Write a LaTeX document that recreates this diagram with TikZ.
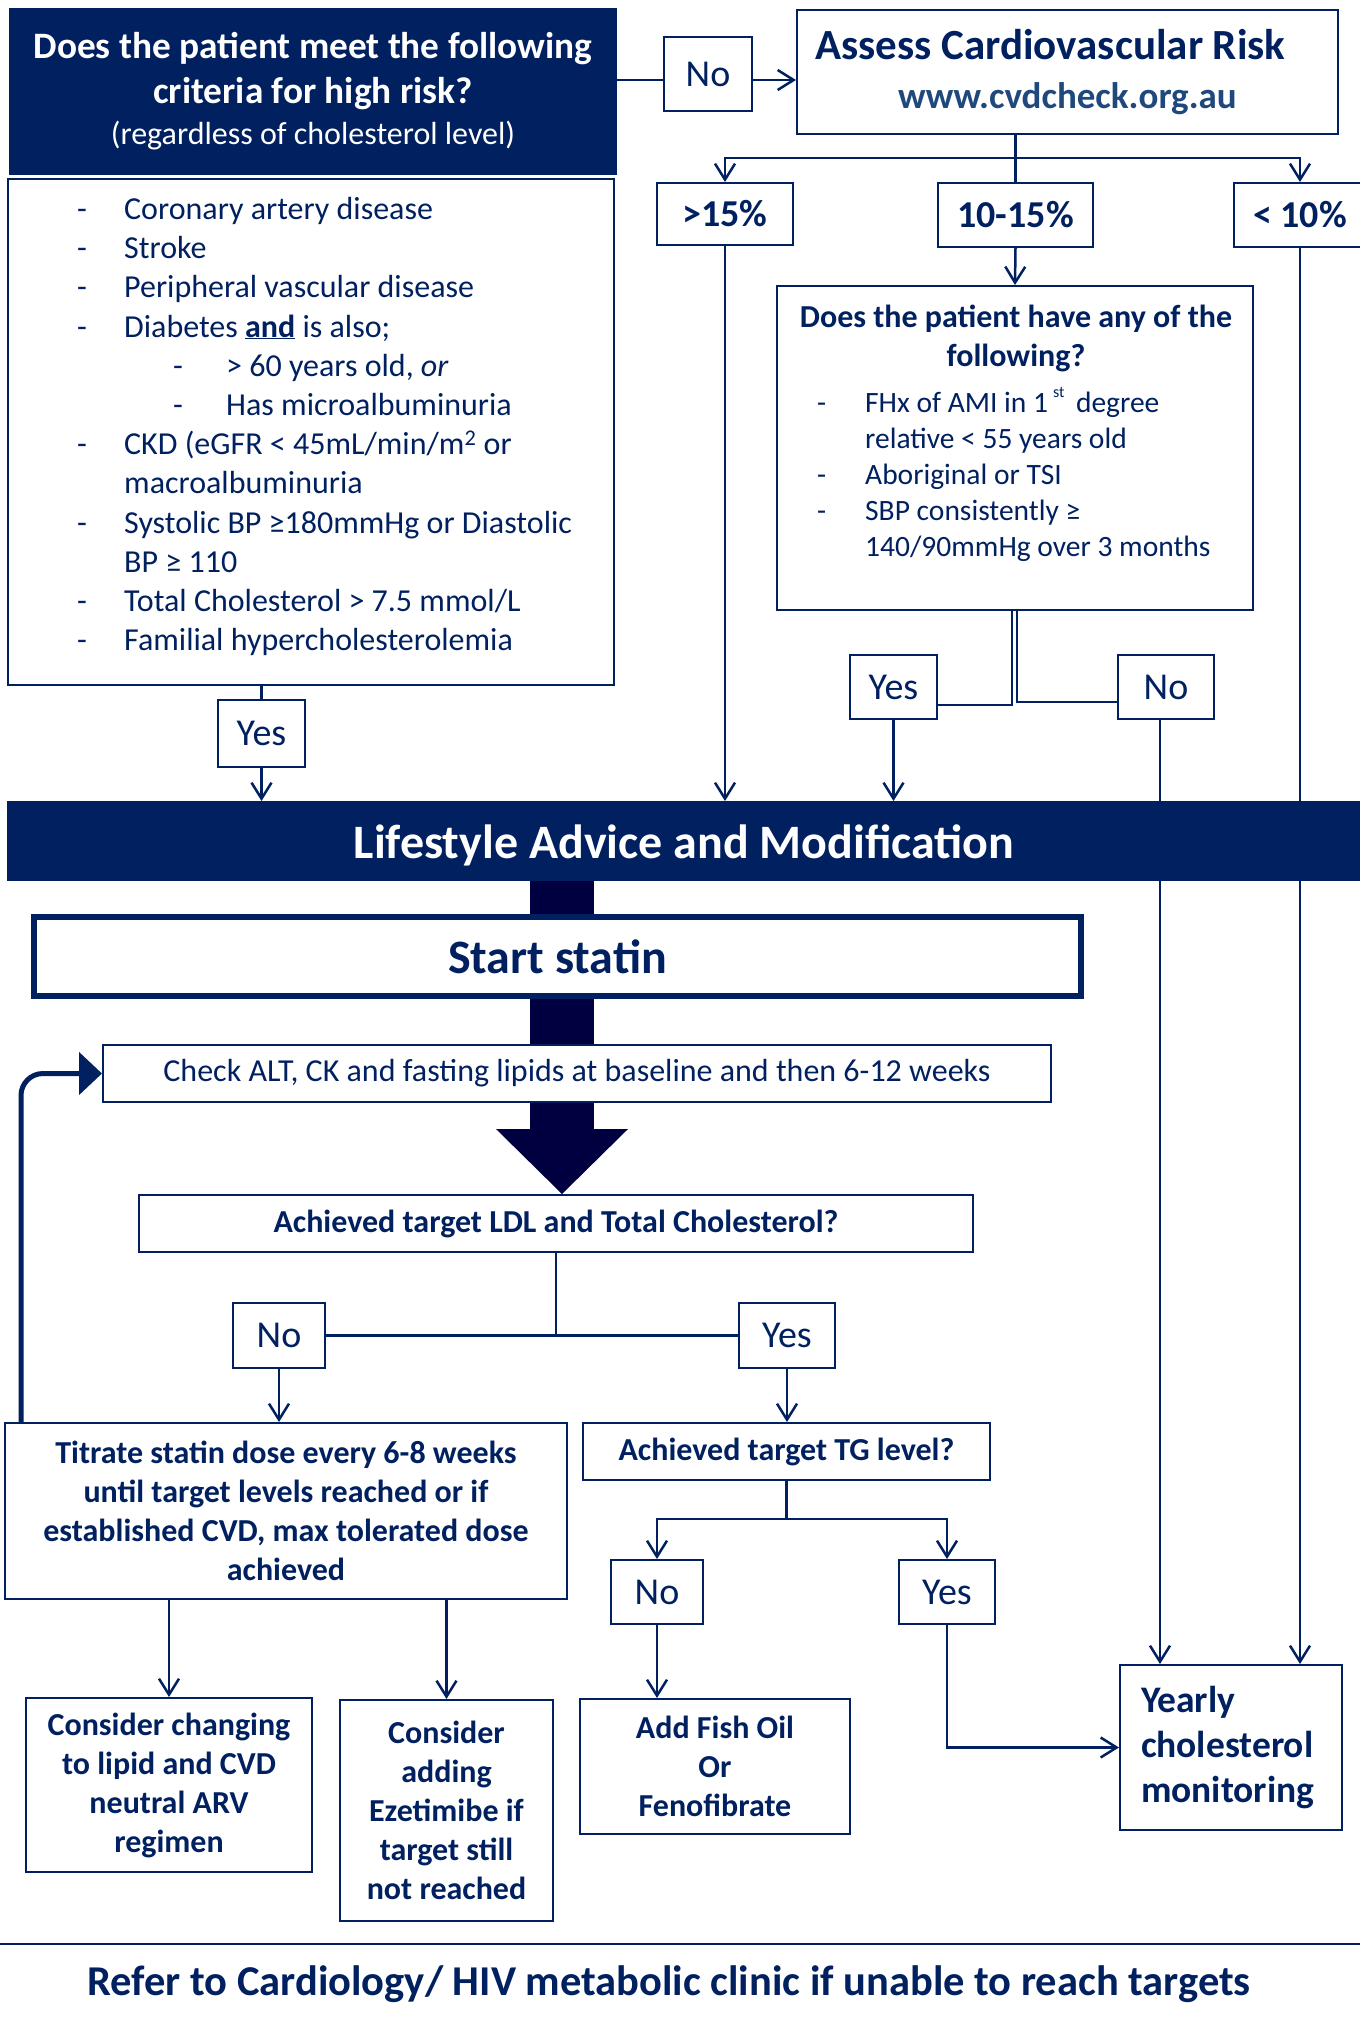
\documentclass[tikz,border=0pt]{standalone}
\usepackage{fontspec}
\setmainfont{Carlito}
\usepackage{tikz}
\usetikzlibrary{arrows.meta}
\usetikzlibrary{positioning}
\usetikzlibrary{calc}
\definecolor{navy}{RGB}{0,32,96}
\definecolor{deepnavy}{RGB}{0,0,64}
\definecolor{linkblue}{RGB}{31,73,125}
\newcommand{\critdash}{\makebox[47pt][l]{-}}
\newcommand{\subdash}{\hspace*{96pt}\makebox[53pt][l]{-}}
\newcommand{\rfdash}{\makebox[48pt][l]{-}}

\begin{document}
\begin{tikzpicture}[x=1pt,y=-1pt,
  every node/.style={text=navy},
  box/.style={draw=navy, line width=2pt, inner sep=0pt, align=center},
  darkbox/.style={box, fill=navy, text=white},
  answer/.style={box, font=\fontsize{38}{44}\selectfont},
  risk/.style={answer, font=\bfseries\fontsize{38}{44}\selectfont},
  action/.style={box, font=\bfseries\fontsize{32}{39}\selectfont},
  line/.style={draw=navy, line width=2.5pt},
  arr/.style={line, -{Straight Barb[length=16pt,width=20pt]}},
  fat/.style={draw=deepnavy, line width=64pt},
  loop/.style={draw=navy, line width=5pt, rounded corners=22pt,
    -{Triangle[length=23pt,width=42pt]}}]
\useasboundingbox (0,0) rectangle (1360,2022);

% first question
\node[darkbox, minimum width=606pt, minimum height=165pt,
  font=\bfseries\fontsize{37.3}{45}\selectfont] (highrisk) at (313,91.5)
  {Does the patient meet the following\\criteria for high risk?\\[-4pt]
   {\mdseries\fontsize{32}{35}\selectfont (regardless of cholesterol level)}};
\node[box, minimum width=606pt, minimum height=506pt] (criteria) at (311,432) {};
\node[anchor=north west, align=left, inner sep=0pt,
  font=\fontsize{32}{39.2}\selectfont] (criterialist) at (77,197)
  {\critdash Coronary artery disease\\
   \critdash Stroke\\
   \critdash Peripheral vascular disease\\
   \critdash Diabetes \underline{\textbf{and}} is also;\\
   \subdash > 60 years old, \textit{or}\\
   \subdash Has microalbuminuria\\
   \critdash CKD (eGFR < 45mL/min/m\textsuperscript{2} or\\
   \hspace*{47pt}macroalbuminuria\\
   \critdash Systolic BP ≥180mmHg or Diastolic\\
   \hspace*{47pt}BP ≥ 110\\
   \critdash Total Cholesterol > 7.5 mmol/L\\
   \critdash Familial hypercholesterolemia};
\node[answer, minimum width=87pt, minimum height=67pt] (highyes) at (261.5,733.5) {Yes};

% cardiovascular risk
\node[answer, minimum width=88pt, minimum height=74pt] (cvdno) at (708,74) {No};
\node[box, minimum width=541pt, minimum height=124pt,
  font=\bfseries\fontsize{43}{49}\selectfont] (assess) at (1067.5,72)
  {Assess Cardiovascular Risk\hspace*{34pt}\\
   {\fontsize{37}{49}\selectfont\color{linkblue}www.cvdcheck.org.au}};
\node[risk, minimum width=136pt, minimum height=62pt] (riskhigh) at (725,214) {>15\%};
\node[risk, minimum width=155pt, minimum height=64pt] (riskmid) at (1015.5,215) {10-15\%};
\node[risk, minimum width=132pt, minimum height=64pt] (risklow) at (1300,215) {< 10\%};
\node[box, minimum width=476pt, minimum height=324pt] (riskfactors) at (1015,448) {};
\node[anchor=north, align=center, inner sep=0pt,
  font=\bfseries\fontsize{32}{39}\selectfont] (rfquestion) at (1016,305)
  {Does the patient have any of the\\following?};
\node[anchor=north west, align=left, inner sep=0pt,
  font=\fontsize{29.5}{36}\selectfont] (rflist) at (817,392)
  {\rfdash FHx of AMI in 1\,\raisebox{15pt}[\height][\depth]{\fontsize{16}{16}\selectfont st}\, degree\\
   \hspace*{48pt}relative < 55 years old\\
   \rfdash Aboriginal or TSI\\
   \rfdash SBP consistently ≥\\
   \hspace*{48pt}140/90mmHg over 3 months};
\node[answer, minimum width=87pt, minimum height=64pt] (riskyes) at (893.5,687) {Yes};
\node[answer, minimum width=96pt, minimum height=64pt] (riskno) at (1166,687) {No};

% treatment
\node[darkbox, minimum width=1352pt, minimum height=78pt,
  font=\bfseries\fontsize{48}{56}\selectfont] (lifestyle) at (684,841)
  {\raisebox{-4pt}[\height][\depth]{Lifestyle Advice and Modification}};
\node[box, line width=6pt, minimum width=1047pt, minimum height=79pt,
  font=\bfseries\fontsize{48}{56}\selectfont] (statin) at (557.5,956.5) {Start statin};
\node[box, minimum width=948pt, minimum height=57pt,
  font=\fontsize{32}{36}\selectfont] (labs) at (577,1073.5)
  {Check ALT, CK and fasting lipids at baseline and then 6-12 weeks};
\node[action, minimum width=834pt, minimum height=57pt] (ldltarget) at (556,1223.5)
  {Achieved target LDL and Total Cholesterol?};
\node[answer, minimum width=92pt, minimum height=65pt] (ldlno) at (279,1335.5) {No};
\node[answer, minimum width=96pt, minimum height=65pt] (ldlyes) at (787,1335.5) {Yes};
\node[action, minimum width=562pt, minimum height=176pt] (titrate) at (286,1511)
  {Titrate statin dose every 6-8 weeks\\until target levels reached or if\\
   established CVD, max tolerated dose\\achieved};
\node[action, minimum width=407pt, minimum height=57pt] (tgtarget) at (786.5,1451.5)
  {Achieved target TG level?};
\node[answer, minimum width=92pt, minimum height=64pt] (tgno) at (657,1592) {No};
\node[answer, minimum width=96pt, minimum height=64pt] (tgyes) at (947,1592) {Yes};
\node[action, minimum width=286pt, minimum height=174pt] (switcharv) at (169,1785)
  {Consider changing\\to lipid and CVD\\neutral ARV\\regimen};
\node[action, minimum width=213pt, minimum height=221pt] (ezetimibe) at (446.5,1810.5)
  {Consider\\adding\\Ezetimibe if\\target still\\not reached};
\node[action, minimum width=270pt, minimum height=135pt] (fishoil) at (715,1766.5)
  {Add Fish Oil\\Or\\Fenofibrate};
\node[action, minimum width=222pt, minimum height=165pt, align=left, text width=180pt,
  font=\bfseries\fontsize{37.5}{45}\selectfont] (yearly) at (1231,1747.5)
  {Yearly\\cholesterol\\monitoring};

% connectors, top
\draw[line] (highrisk.east |- 0,80) -- ([yshift=-6pt]cvdno.west);
\draw[arr] ([yshift=-6pt]cvdno.east) -- ([yshift=-6pt]cvdno.east -| assess.west);
\coordinate (risksplit) at ($(assess.south -| riskmid.north)+(0,23)$);
\draw[line] (assess.south -| riskmid.north) -- (riskmid.north);
\draw[arr] (risksplit) -| (riskhigh.north);
\draw[arr] (risksplit) -| (risklow.north);
\draw[arr] (riskmid.south) -- (riskfactors.north);
\draw[line] ([xshift=-3pt]riskfactors.south) |- ([yshift=-18pt]riskyes.east);
\draw[line] ([xshift=2pt]riskfactors.south) |- ([yshift=-15pt]riskno.west);
\draw[line] (highyes.north |- criteria.south) -- (highyes.north);
\draw[arr] (highyes.south) -- (highyes.south |- lifestyle.north);
\draw[arr] (riskhigh.south) -- (riskhigh.south |- lifestyle.north);
\draw[arr] (riskyes.south) -- (riskyes.south |- lifestyle.north);
\draw[arr] ([xshift=-6pt]riskno.south) -- ([xshift=-6pt]riskno.south |- yearly.north);
\draw[arr] (risklow.south) -- (risklow.south |- yearly.north);

% connectors, statin
\coordinate (stem) at (562,0);
\draw[fat] (lifestyle.south -| stem) -- (statin.north -| stem);
\draw[fat] (statin.south -| stem) -- (labs.north -| stem);
\draw[fat] (labs.south -| stem) -- ++(0,30);
\fill[deepnavy] (ldltarget.north -| stem) -- ++(-66,-65) -- ++(132,0) -- cycle;
\draw[loop] ([xshift=17pt]titrate.north west) |- (labs.west);
\draw[line] (ldlno.east) -- (ldlyes.west);
\draw[line] (ldltarget.south) -- (ldltarget.south |- ldlno.east);
\draw[arr] (ldlno.south) -- (ldlno.south |- titrate.north);
\draw[arr] (ldlyes.south) -- (ldlyes.south |- tgtarget.north);
\coordinate (tgsplit) at ($(tgtarget.south)+(0,38)$);
\draw[line] (tgtarget.south) -- (tgsplit);
\draw[arr] (tgsplit) -| (tgno.north);
\draw[arr] (tgsplit) -| (tgyes.north);
\draw[arr] (tgno.south) -- (tgno.south |- fishoil.north);
\draw[arr] (tgyes.south) |- (yearly.west);
\draw[arr] (titrate.south -| switcharv.north) -- (switcharv.north);
\draw[arr] (titrate.south -| ezetimibe.north) -- (ezetimibe.north);

% referral
\draw[navy, line width=2pt] (0,1944) -- (1360,1944);
\node[font=\bfseries\fontsize{42.5}{48}\selectfont] (referral) at (669,1984)
  {Refer to Cardiology/ HIV metabolic clinic if unable to reach targets};
\end{tikzpicture}
\end{document}
